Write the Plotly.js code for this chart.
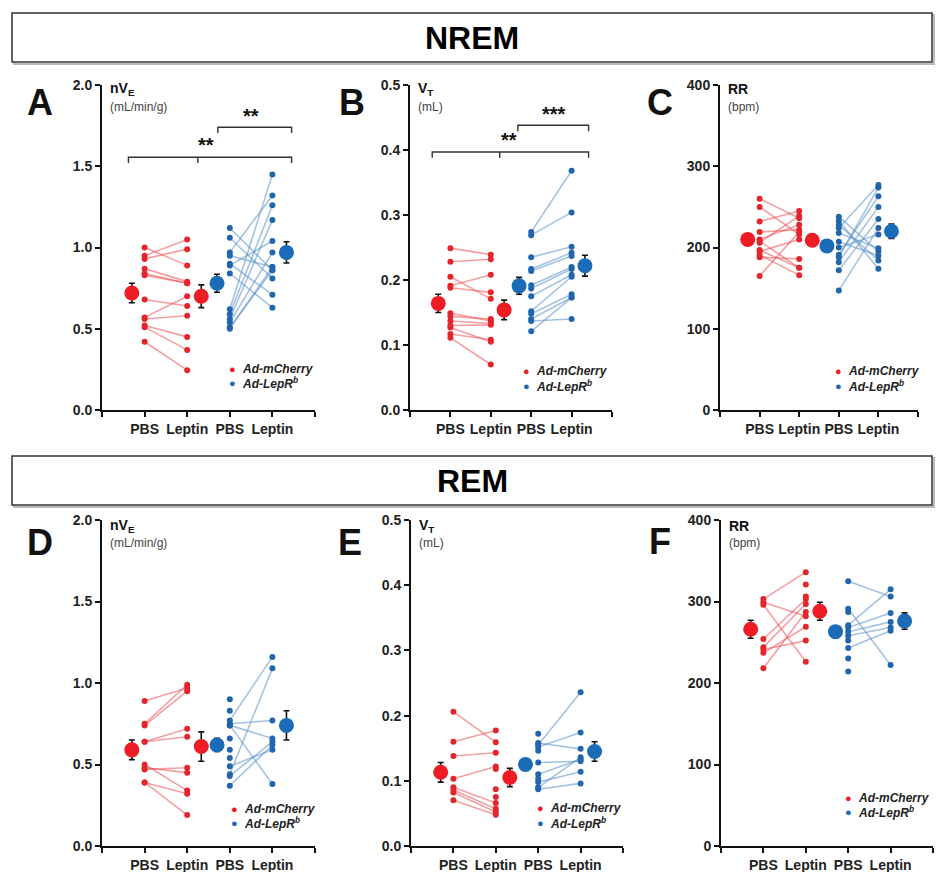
<!DOCTYPE html>
<html>
<head>
<meta charset="utf-8">
<script src="https://cdn.plot.ly/plotly-3.0.1.min.js"></script>
<style>html,body{margin:0;padding:0;background:#fff;}#chart{width:943px;height:872px;}</style>
</head>
<body>
<div id="chart"></div>
<script>
// ---------------- DATA ----------------
const categories = ["PBS", "Leptin", "PBS", "Leptin"];
const groupNames = ["Ad-mCherry", "Ad-LepR<sup>b</sup>"];

// A: NREM nVE (mL/min/g)
const nremVE_mCh_PBS = [1.00,0.95,0.93,0.87,0.84,0.83,0.68,0.57,0.56,0.52,0.51,0.42];
const nremVE_mCh_Lep = [0.89,1.05,0.99,0.79,0.78,0.78,0.64,0.70,0.58,0.45,0.37,0.245];
const nremVE_LepR_PBS = [1.12,1.06,0.97,0.95,0.90,0.89,0.84,0.62,0.59,0.56,0.54,0.51,0.50];
const nremVE_LepR_Lep = [0.86,0.81,1.32,0.88,0.71,1.04,0.63,1.45,1.26,1.17,0.97,0.86,0.88];
const nremVE_mean = [0.72,0.70,0.78,0.97];
const nremVE_sem  = [0.06,0.07,0.055,0.065];

// B: NREM VT (mL)
const nremVT_mCh_PBS = [0.249,0.228,0.205,0.191,0.188,0.149,0.144,0.137,0.130,0.127,0.117,0.111];
const nremVT_mCh_Lep = [0.239,0.232,0.171,0.208,0.181,0.137,0.140,0.133,0.131,0.105,0.108,0.070];
const nremVT_LepR_PBS = [0.274,0.269,0.235,0.217,0.214,0.192,0.187,0.175,0.152,0.148,0.140,0.137,0.121];
const nremVT_LepR_Lep = [0.368,0.304,0.251,0.242,0.237,0.220,0.217,0.208,0.205,0.178,0.173,0.140,0.173];
const nremVT_mean = [0.164,0.154,0.191,0.222];
const nremVT_sem  = [0.014,0.015,0.013,0.016];

// C: NREM RR (bpm)
const nremRR_mCh_PBS = [260,250,232,219,210,208,206,197,195,191,188,165];
const nremRR_mCh_Lep = [236,216,245,222,228,175,239,175,210,166,186,219];
const nremRR_LepR_PBS = [238,233,228,224,218,207,200,191,188,182,172,147];
const nremRR_LepR_Lep = [195,174,184,277,199,190,216,263,274,250,235,224];
const nremRR_mean = [210,209,202,220];
const nremRR_sem  = [7,7,7,9];

// D: REM nVE (mL/min/g)
const remVE_mCh_PBS = [0.89,0.75,0.74,0.64,0.64,0.50,0.48,0.47,0.39,0.39];
const remVE_mCh_Lep = [0.97,0.99,0.95,0.72,0.67,0.34,0.45,0.48,0.32,0.19];
const remVE_LepR_PBS = [0.90,0.83,0.77,0.75,0.74,0.74,0.66,0.59,0.54,0.49,0.44,0.43,0.37];
const remVE_LepR_Lep = [null,null,1.16,0.77,0.38,0.66,null,null,null,0.59,1.09,0.64,0.62];
const remVE_mean = [0.59,0.61,0.62,0.74];
const remVE_sem  = [0.06,0.09,0.04,0.09];

// E: REM VT (mL)
const remVT_mCh_PBS = [0.206,0.160,0.138,0.103,0.090,0.086,0.082,0.070,null,null,null];
const remVT_mCh_Lep = [0.159,0.177,0.143,0.122,0.066,0.057,0.052,0.048,0.118,0.087,0.075];
const remVT_LepR_PBS = [0.172,0.158,0.155,0.152,0.146,0.128,0.110,0.103,0.098,0.090,0.087];
const remVT_LepR_Lep = [null,0.149,0.236,0.174,null,0.130,0.133,null,0.114,0.136,0.096];
const remVT_mean = [0.113,0.105,0.125,0.145];
const remVT_sem  = [0.015,0.014,0.004,0.015];

// F: REM RR (bpm)
const remRR_mCh_PBS = [303,299,296,254,244,241,237,218,null,null];
const remRR_mCh_Lep = [336,282,226,303,297,252,269,287,321,306];
const remRR_LepR_PBS = [325,291,287,271,268,263,258,252,243,230,214];
const remRR_LepR_Lep = [306,222,null,315,286,275,268,null,264,null,null];
const remRR_mean = [266,288,263,276];
const remRR_sem  = [11,11,7,10];

// ---------------- LAYOUT HELPERS ----------------
const W = 943, H = 872;
const px = v => v / W;
const py = v => 1 - v / H;
const FONT = "Arial, 'Liberation Sans', Helvetica, sans-serif";
const RED = "#ee1c24", RED_PT = "#e3262e", RED_LN = "rgba(238,80,85,0.55)";
const BLUE = "#1a6cb8", BLUE_PT = "#2166ad", BLUE_LN = "rgba(90,145,200,0.55)";
const meanX = [0.7, 2.33, 2.7, 4.33];

const topY = [py(410), py(85)], botY = [py(846), py(520)];
const panels = [
  {id:"", letter:"A", lx:40, ly:103, xd:[px(102),px(315)], yd:topY, range:[0,2], dtick:0.5, fmt:".1f",
   lab:"nV<sub>E</sub>", unit:"(mL/min/g)", labx:108, laby:89, unity:107,
   d:[nremVE_mCh_PBS,nremVE_mCh_Lep,nremVE_LepR_PBS,nremVE_LepR_Lep], m:nremVE_mean, s:nremVE_sem,
   leg:[0.615,0.126,0.083]},
  {id:"2", letter:"B", lx:352, ly:103, xd:[px(410),px(612)], yd:topY, range:[0,0.5], dtick:0.1, fmt:".1f",
   lab:"V<sub>T</sub>", unit:"(mL)", labx:416, laby:89, unity:107,
   d:[nremVT_mCh_PBS,nremVT_mCh_Lep,nremVT_LepR_PBS,nremVT_LepR_Lep], m:nremVT_mean, s:nremVT_sem,
   leg:[0.579,0.12,0.074]},
  {id:"3", letter:"C", lx:660, ly:103, xd:[px(720),px(918)], yd:topY, range:[0,400], dtick:100, fmt:"d",
   lab:"RR", unit:"(bpm)", labx:726, laby:89, unity:107,
   d:[nremRR_mCh_PBS,nremRR_mCh_Lep,nremRR_LepR_PBS,nremRR_LepR_Lep], m:nremRR_mean, s:nremRR_sem,
   leg:[0.60,0.12,0.074]},
  {id:"4", letter:"D", lx:40, ly:542, xd:[px(102),px(315)], yd:botY, range:[0,2], dtick:0.5, fmt:".1f",
   lab:"nV<sub>E</sub>", unit:"(mL/min/g)", labx:108, laby:526, unity:543,
   d:[remVE_mCh_PBS,remVE_mCh_Lep,remVE_LepR_PBS,remVE_LepR_Lep], m:remVE_mean, s:remVE_sem,
   leg:[0.62,0.113,0.071]},
  {id:"5", letter:"E", lx:350, ly:542, xd:[px(411),px(623)], yd:botY, range:[0,0.5], dtick:0.1, fmt:".1f",
   lab:"V<sub>T</sub>", unit:"(mL)", labx:417, laby:526, unity:543,
   d:[remVT_mCh_PBS,remVT_mCh_Lep,remVT_LepR_PBS,remVT_LepR_Lep], m:remVT_mean, s:remVT_sem,
   leg:[0.613,0.117,0.07]},
  {id:"6", letter:"F", lx:660, ly:541, xd:[px(721),px(933)], yd:botY, range:[0,400], dtick:100, fmt:"d",
   lab:"RR", unit:"(bpm)", labx:727, laby:526, unity:543,
   d:[remRR_mCh_PBS,remRR_mCh_Lep,remRR_LepR_PBS,remRR_LepR_Lep], m:remRR_mean, s:remRR_sem,
   leg:[0.60,0.147,0.104]}
];

const traces = [];
const annotations = [];
const shapes = [];
const layout = {
  width: W, height: H, margin:{l:0,r:0,t:0,b:0},
  paper_bgcolor:"#fff", plot_bgcolor:"rgba(0,0,0,0)", showlegend:false,
  font:{family:FONT, color:"#111"}
};

function pairLines(pbs, lep, x0, x1) {
  const xs = [], ys = [];
  for (let i = 0; i < Math.max(pbs.length, lep.length); i++) {
    xs.push(x0, x1, null); ys.push(pbs[i] ?? null, lep[i] ?? null, null);
  }
  return {xs, ys};
}

panels.forEach(p => {
  const xa = "x" + p.id, ya = "y" + p.id;
  const xk = "xaxis" + p.id, yk = "yaxis" + p.id;
  layout[xk] = {domain:p.xd, anchor:ya, range:[0,5], tickvals:[1,2,3,4], ticktext:categories,
    showline:true, linecolor:"#111", linewidth:2, ticks:"outside", ticklen:5, tickwidth:2, tickcolor:"#111",
    minor:{dtick:1, tick0:0, ticks:"outside", ticklen:5, tickwidth:2, tickcolor:"#111", showgrid:false},
    showgrid:false, zeroline:false, fixedrange:true,
    tickfont:{family:FONT, size:14, color:"#222", weight:"bold"}};
  layout[yk] = {domain:p.yd, anchor:xa, range:p.range, dtick:p.dtick, tick0:0, tickformat:p.fmt,
    showline:true, linecolor:"#111", linewidth:2, ticks:"outside", ticklen:5, tickwidth:2, tickcolor:"#111",
    showgrid:false, zeroline:false, fixedrange:true,
    tickfont:{family:FONT, size:14, color:"#222", weight:"bold"}};

  const groups = [
    {pbs:p.d[0], lep:p.d[1], x0:1, x1:2, ln:RED_LN, pt:RED_PT},
    {pbs:p.d[2], lep:p.d[3], x0:3, x1:4, ln:BLUE_LN, pt:BLUE_PT}
  ];
  groups.forEach(g => {
    const L = pairLines(g.pbs, g.lep, g.x0, g.x1);
    traces.push({type:"scatter", mode:"lines", x:L.xs, y:L.ys, xaxis:xa, yaxis:ya,
      line:{color:g.ln, width:1.6}, connectgaps:false, hoverinfo:"skip"});
    traces.push({type:"scatter", mode:"markers", x:g.pbs.map(() => g.x0), y:g.pbs, xaxis:xa, yaxis:ya,
      marker:{color:g.pt, size:6}, hoverinfo:"skip"});
    traces.push({type:"scatter", mode:"markers", x:g.lep.map(() => g.x1), y:g.lep, xaxis:xa, yaxis:ya,
      marker:{color:g.pt, size:6}, hoverinfo:"skip"});
  });
  traces.push({type:"scatter", mode:"markers", x:meanX, y:p.m, xaxis:xa, yaxis:ya,
    marker:{color:[RED,RED,BLUE,BLUE], size:15},
    error_y:{type:"data", array:p.s, visible:true, color:"#111", thickness:1.6, width:3},
    hoverinfo:"skip"});

  // panel letter
  annotations.push({xref:"paper", yref:"paper", x:px(p.lx), y:py(p.ly), text:"<b>"+p.letter+"</b>",
    showarrow:false, xanchor:"center", yanchor:"middle", font:{family:FONT, size:36, color:"#111"}});
  // y label + unit
  annotations.push({xref:"paper", yref:"paper", x:px(p.labx), y:py(p.laby), text:"<b>"+p.lab+"</b>",
    showarrow:false, xanchor:"left", yanchor:"middle", font:{family:FONT, size:14, color:"#111"}});
  annotations.push({xref:"paper", yref:"paper", x:px(p.labx), y:py(p.unity), text:p.unit,
    showarrow:false, xanchor:"left", yanchor:"middle", font:{family:FONT, size:12, color:"#444"}});
  // in-plot legend
  const lg = p.leg;
  [[RED, groupNames[0], lg[1]], [BLUE, groupNames[1], lg[2]]].forEach(([c, name, yy]) => {
    annotations.push({xref:xa+" domain", yref:ya+" domain", x:lg[0], y:yy, text:"●",
      showarrow:false, xanchor:"center", yanchor:"middle", font:{family:FONT, size:11, color:c}});
    annotations.push({xref:xa+" domain", yref:ya+" domain", x:lg[0]+0.035, y:yy, text:"<b><i>"+name+"</i></b>",
      showarrow:false, xanchor:"left", yanchor:"middle", font:{family:FONT, size:12, color:"#222"}});
  });
});

// significance brackets (panels A and B)
function bracket(xa, ya, x0, x1, y, drop, mids, label, lx, ly) {
  shapes.push({type:"path", xref:xa, yref:ya, path:`M ${x0},${y-drop} L ${x0},${y} L ${x1},${y} L ${x1},${y-drop}`,
    line:{color:"#333", width:1.4}});
  mids.forEach(m => shapes.push({type:"line", xref:xa, yref:ya, x0:m, x1:m, y0:y, y1:y-drop, line:{color:"#333", width:1.4}}));
  annotations.push({xref:xa, yref:ya, x:lx, y:ly, text:"<b>"+label+"</b>", showarrow:false,
    xanchor:"center", yanchor:"middle", font:{family:FONT, size:20, color:"#111"}});
}
bracket("x", "y", 0.62, 4.45, 1.555, 0.035, [2.25], "**", 2.45, 1.63);
bracket("x", "y", 2.72, 4.45, 1.74, 0.035, [], "**", 3.5, 1.81);
bracket("x2", "y2", 0.55, 4.42, 0.397, 0.009, [2.22], "**", 2.45, 0.415);
bracket("x2", "y2", 2.67, 4.42, 0.438, 0.009, [], "***", 3.57, 0.456);

// section header boxes
[["NREM", 13, 62], ["REM", 456, 505]].forEach(([t, y0, y1]) => {
  shapes.push({type:"rect", xref:"paper", yref:"paper", x0:px(14), x1:px(934), y0:py(y1+2), y1:py(y0+2),
    line:{color:"#bbb", width:2}, fillcolor:"rgba(0,0,0,0)", layer:"below"});
  shapes.push({type:"rect", xref:"paper", yref:"paper", x0:px(12), x1:px(932), y0:py(y1), y1:py(y0),
    line:{color:"#333", width:1.5}, fillcolor:"#fff"});
  annotations.push({xref:"paper", yref:"paper", x:px(472), y:py((y0+y1)/2), text:"<b>"+t+"</b>",
    showarrow:false, xanchor:"center", yanchor:"middle", font:{family:FONT, size:32, color:"#000"}});
});

layout.annotations = annotations;
layout.shapes = shapes;
Plotly.newPlot("chart", traces, layout, {staticPlot:true, displayModeBar:false});
</script>
</body>
</html>
